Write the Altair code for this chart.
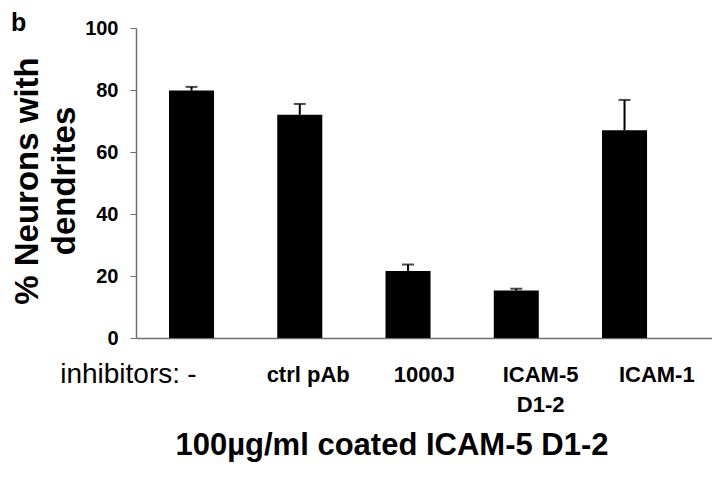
import altair as alt
import pandas as pd

FONT = "Liberation Sans"

categories = ["-", "ctrl pAb", "1000J", "ICAM-5 D1-2", "ICAM-1"]
labels = ["-", "ctrl pAb", "1000J", "ICAM-5\nD1-2", "ICAM-1"]
values = [79.8, 72.0, 21.6, 15.3, 67.0]
errors = [1.2, 3.5, 2.1, 0.6, 9.8]
y_ticks = [0, 20, 40, 60, 80, 100]

y_title = "% Neurons with\ndendrites"
x_title = "100µg/ml coated ICAM-5 D1-2"
prefix = "inhibitors:"
panel = "b"

df = pd.DataFrame({"cat": categories, "label": labels, "val": values, "err": errors})
df["upper"] = df["val"] + df["err"]

x = alt.X(
    "cat:N",
    sort=categories,
    scale=alt.Scale(paddingInner=0.584, paddingOuter=0.4525, align=0.337, round=False),
    axis=alt.Axis(labels=False, ticks=False, title=None, domainColor="#6f6f6f", domainWidth=1.5),
)
y = alt.Y(
    "val:Q",
    scale=alt.Scale(domain=[0, 100], nice=False),
    axis=alt.Axis(
        values=y_ticks, title=None, grid=False, labelFont=FONT, labelFontSize=20,
        labelFontWeight="bold", labelColor="black", tickColor="#6f6f6f", tickSize=6,
        labelPadding=12, domainColor="#6f6f6f", domainWidth=1.5,
    ),
)

base = alt.Chart(df)
bars = base.mark_bar(color="black").encode(x=x, y=y)
stems = base.mark_rule(color="black", strokeWidth=2).encode(x=x, y=alt.Y("val:Q"), y2="upper:Q")
caps = base.mark_tick(color="black", thickness=2, size=12).encode(x=x, y=alt.Y("upper:Q"))
plot = alt.layer(bars, stems, caps)

# category labels (typed labels sit on their own, slightly wider spacing)
xl = alt.X(
    "cat:N", sort=categories, axis=None,
    scale=alt.Scale(type="point", padding=0.4785, align=0.5036, round=False),
)
bold_labels = base.transform_filter(alt.datum.cat != "-").mark_text(
    font=FONT, fontSize=22, fontWeight="bold", baseline="alphabetic", lineBreak="\n", lineHeight=30
).encode(x=xl, y=alt.value(354), text="label:N")
dash_only = base.transform_filter(alt.datum.cat == "-").mark_text(
    font=FONT, fontSize=28, baseline="alphabetic"
).encode(x=xl, y=alt.value(355), text="label:N")
label_layer = alt.layer(bold_labels, dash_only)

one = pd.DataFrame({"k": [0]})
prefix_text = alt.Chart(one).mark_text(
    font=FONT, fontSize=28, align="right", baseline="alphabetic"
).encode(x=alt.value(44), y=alt.value(355), text=alt.value(prefix))
ytitle = alt.Chart(one).mark_text(
    font=FONT, fontSize=33, fontWeight="bold", angle=270, align="center",
    baseline="middle", lineBreak="\n", lineHeight=37
).encode(x=alt.value(-108), y=alt.value(153), text=alt.value(y_title))
xtitle = alt.Chart(one).mark_text(
    font=FONT, fontSize=31, fontWeight="bold", align="center", baseline="alphabetic"
).encode(x=alt.value(256), y=alt.value(427), text=alt.value(x_title))
panel_text = alt.Chart(one).mark_text(
    font=FONT, fontSize=25, fontWeight="bold", align="left", baseline="alphabetic"
).encode(x=alt.value(-125), y=alt.value(3), text=alt.value(panel))

chart = alt.layer(
    plot, label_layer, prefix_text, ytitle, xtitle, panel_text
).resolve_scale(x="independent").properties(
    width=576, height=310,
    autosize=alt.AutoSizeParams(type="none"),
    padding={"left": 128, "top": 20, "right": 0, "bottom": 132},
).configure_view(stroke=None)

chart.save("out.html", embed_options={"renderer": "svg", "actions": False})
